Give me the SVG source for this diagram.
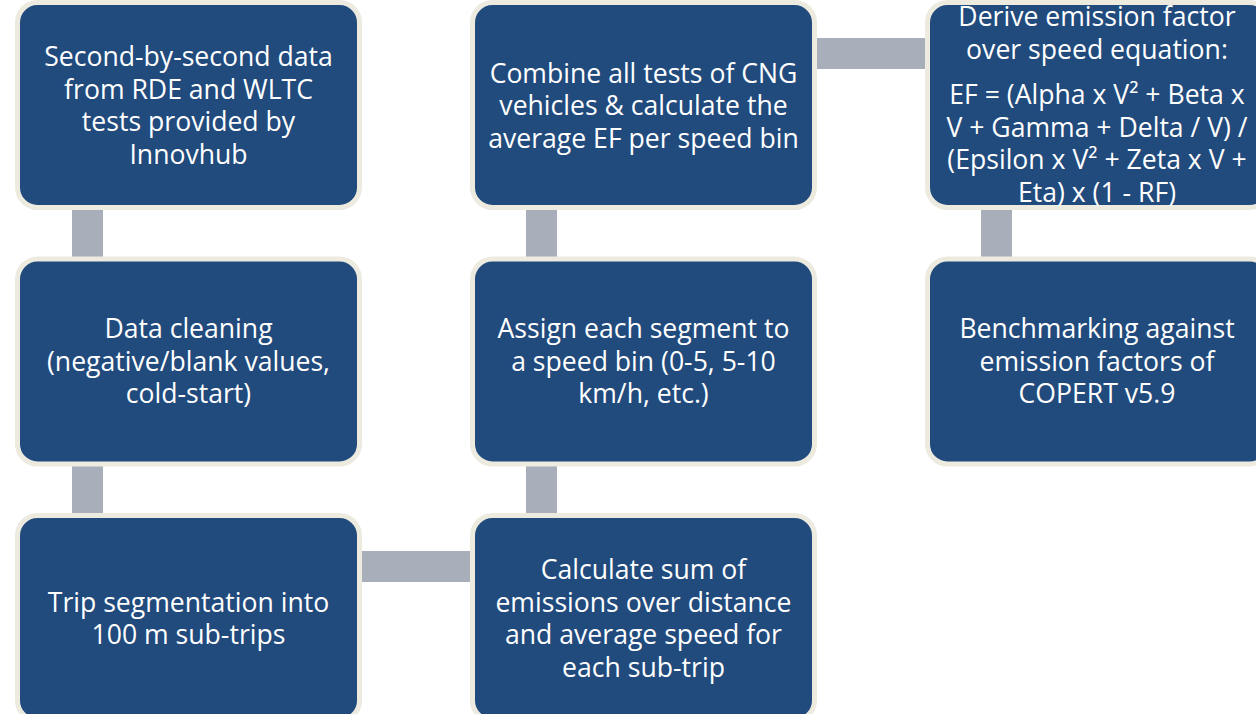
<svg xmlns="http://www.w3.org/2000/svg" width="1256" height="714" viewBox="0 0 1256 714">
<style>
.box{fill:#214A7D;stroke:#EDEAE0;stroke-width:5}
.conn{fill:#A9AEBB}
.t{font-family:"Open Sans","Noto Sans","Liberation Sans",sans-serif;font-size:26.6px;fill:#FFFFFF;text-anchor:middle}
</style>
<rect width="1256" height="714" fill="#FFFFFF"/>
<g id="connectors">
<rect class="conn" x="72" y="208" width="31" height="52"/>
<rect class="conn" x="72" y="464" width="31" height="52"/>
<rect class="conn" x="526" y="208" width="31" height="52"/>
<rect class="conn" x="526" y="464" width="31" height="52"/>
<rect class="conn" x="981" y="208" width="31" height="52"/>
<rect class="conn" x="815" y="38" width="112" height="31"/>
<rect class="conn" x="360" y="551" width="112" height="31"/>
</g>
<g id="node-data">
<rect class="box" x="17.5" y="2.5" width="342" height="205" rx="20"/>
<text class="t"><tspan x="188.5" y="66">Second-by-second data</tspan><tspan x="188.5" y="98.5">from RDE and WLTC</tspan><tspan x="188.5" y="131">tests provided by</tspan><tspan x="188.5" y="163.5">Innovhub</tspan></text>
</g>
<g id="node-cleaning">
<rect class="box" x="17.5" y="259" width="342" height="205" rx="20"/>
<text class="t"><tspan x="188.5" y="338">Data cleaning</tspan><tspan x="188.5" y="370.5">(negative/blank values,</tspan><tspan x="188.5" y="403">cold-start)</tspan></text>
</g>
<g id="node-segmentation">
<rect class="box" x="17.5" y="515.5" width="342" height="205" rx="20"/>
<text class="t"><tspan x="188.5" y="611.5">Trip segmentation into</tspan><tspan x="188.5" y="644">100 m sub-trips</tspan></text>
</g>
<g id="node-calculate">
<rect class="box" x="472.5" y="515.5" width="342" height="205" rx="20"/>
<text class="t"><tspan x="643.5" y="579">Calculate sum of</tspan><tspan x="643.5" y="611.5">emissions over distance</tspan><tspan x="643.5" y="644">and average speed for</tspan><tspan x="643.5" y="676.5">each sub-trip</tspan></text>
</g>
<g id="node-assign">
<rect class="box" x="472.5" y="259" width="342" height="205" rx="20"/>
<text class="t"><tspan x="643.5" y="338">Assign each segment to</tspan><tspan x="643.5" y="370.5">a speed bin (0-5, 5-10</tspan><tspan x="643.5" y="403">km/h, etc.)</tspan></text>
</g>
<g id="node-combine">
<rect class="box" x="472.5" y="2.5" width="342" height="205" rx="20"/>
<text class="t"><tspan x="643.5" y="82.5">Combine all tests of CNG</tspan><tspan x="643.5" y="115">vehicles &amp; calculate the</tspan><tspan x="643.5" y="147.5">average EF per speed bin</tspan></text>
</g>
<g id="node-derive">
<rect class="box" x="927.5" y="2.5" width="342" height="205" rx="20"/>
<text class="t"><tspan x="1097" y="26">Derive emission factor</tspan><tspan x="1097" y="59">over speed equation:</tspan><tspan x="1097" y="104">EF = (Alpha x V² + Beta x</tspan><tspan x="1097" y="136.5">V + Gamma + Delta / V) /</tspan><tspan x="1097" y="169">(Epsilon x V² + Zeta x V +</tspan><tspan x="1097" y="201.5">Eta) x (1 - RF)</tspan></text>
</g>
<g id="node-benchmark">
<rect class="box" x="927.5" y="259" width="342" height="205" rx="20"/>
<text class="t"><tspan x="1097" y="338">Benchmarking against</tspan><tspan x="1097" y="370.5">emission factors of</tspan><tspan x="1097" y="403">COPERT v5.9</tspan></text>
</g>
</svg>
